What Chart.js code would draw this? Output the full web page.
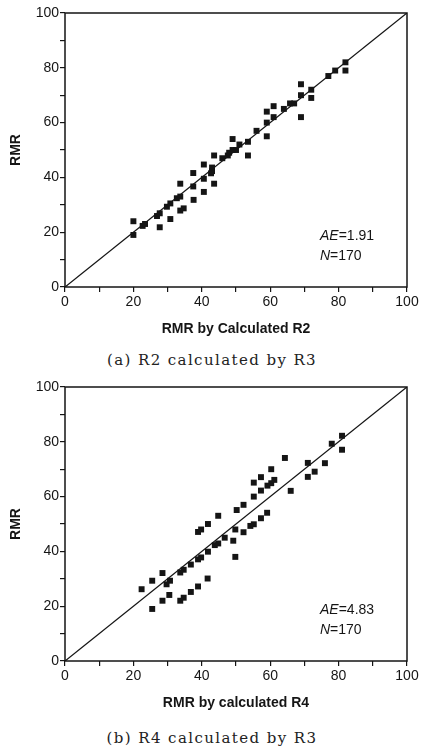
<!DOCTYPE html>
<html>
<head>
<meta charset="utf-8">
<script src="https://cdn.jsdelivr.net/npm/chart.js@4"></script>
<style>
  body { margin:0; background:#fff; width:424px; height:748px; position:relative; overflow:hidden; }
  .box { position:absolute; left:0; width:424px; height:345px; }
  .cap { position:absolute; left:0; width:424px; text-align:center; font-family:"DejaVu Serif"; font-size:15px; letter-spacing:1.4px; color:#222; }
</style>
</head>
<body>
<div class="box" style="top:0"><canvas id="c1"></canvas></div>
<div class="cap" style="top:351px">(a) R2 calculated by R3</div>
<div class="box" style="top:374px"><canvas id="c2"></canvas></div>
<div class="cap" style="top:729px">(b) R4 calculated by R3</div>
<script>
// (a) RMR vs RMR by calculated R2
const r2X = [20,20,22.7,23.4,26.9,27.7,27.7,29.8,30.8,30.8,32.7,33.7,33.7,33.7,34.7,37.5,37.5,37.6,40.6,40.6,40.6,42.7,43,43,43.6,43.6,46,47.6,48,49,49,50,51,53.5,53.5,56,59,59,59,61,61,64,65.8,67,69,69,69,72,72,77,79,82,82];
const r2Y = [24,19,22.3,23,25.9,26.9,21.8,29.3,30.5,24.8,32.4,33,37.7,27.9,28.7,36.7,41.6,31.8,44.7,39.5,34.7,41.5,42.3,43.6,48,37.7,47,48,49,50,54,50,52,53,48,57,64,60,55,66,62,65,67,67,74,70,62,72,69,77,79,82,79];

// (b) RMR vs RMR by calculated R4
const r4X = [81,81,78,76,73,71,71,66,64.3,61.2,60.3,60.3,59.2,59.1,57.3,57.3,57.3,55.2,55.2,55.2,54.2,52.2,52.2,50.2,49.8,49.2,49.8,46.7,44.8,44.8,43.8,41.8,41.8,39.8,38.9,39.8,38.9,36.8,34.7,33.7,28.5,25.5,22.4,30.7,29.7,41.7,38.9,36.8,34.7,33.7,30.5,28.5,25.5];
const r4Y = [82.2,77.1,79.3,72.2,69.1,72.3,67.2,62.1,74.1,66.1,70,64.9,64,54.1,67.1,62.2,52.1,65.1,60,49.9,49.3,57,47,55.1,48,43.9,38,45,53,42.9,42.3,50,39.9,48,47.1,37.8,37.1,35.2,33.3,32.3,32.1,29.3,26.2,29.3,28,30.1,27.2,25.2,23.1,22,24.1,22,19];

// 1:1 line
const lineX = [0, 100];
const lineY = [0, 100];

const INK = '#151515';
const FONT = 'Liberation Sans';

function pts(xs, ys) { return xs.map((x, i) => ({ x, y: ys[i] })); }

const framePlugin = {
  id: 'frame',
  afterDraw(chart, args, opts) {
    const { ctx, chartArea: a } = chart;
    ctx.save();
    ctx.strokeStyle = INK; ctx.lineWidth = 1.5;
    ctx.strokeRect(a.left, a.top, a.right - a.left, a.bottom - a.top);
    // AE / N note
    const x0 = a.left + 255, y0 = a.bottom - 51;
    ctx.fillStyle = INK; ctx.textBaseline = 'middle';
    [[opts.ae[0], opts.ae[1]], [opts.n[0], opts.n[1]]].forEach(([it, rest], i) => {
      const y = y0 + i * 20;
      ctx.font = 'italic 14px "' + FONT + '"';
      ctx.fillText(it, x0, y);
      const w = ctx.measureText(it).width;
      ctx.font = '14px "' + FONT + '"';
      ctx.fillText(rest, x0 + w, y);
    });
    ctx.restore();
  }
};

function makeChart(id, xs, ys, xTitle, ae) {
  new Chart(document.getElementById(id), {
    data: {
      datasets: [
        { type: 'scatter', data: pts(xs, ys), pointStyle: 'rect', pointRadius: 4.2, backgroundColor: INK, borderWidth: 0 },
        { type: 'line', data: pts(lineX, lineY), borderColor: INK, borderWidth: 1.3, pointRadius: 0, fill: false }
      ]
    },
    options: {
      responsive: true,
      maintainAspectRatio: false,
      animation: false,
      layout: { padding: { top: 13, right: 17, left: 0, bottom: 0 } },
      plugins: { legend: { display: false }, tooltip: { enabled: false }, frame: { ae: ['AE', '=' + ae], n: ['N', '=170'] } },
      scales: {
        x: {
          type: 'linear', min: 0, max: 100,
          ticks: { stepSize: 10, autoSkip: false, maxRotation: 0, callback: v => v % 20 === 0 ? v : '', color: INK, font: { family: FONT, size: 14 }, padding: 2 },
          grid: { drawOnChartArea: false, tickLength: 5, color: INK, lineWidth: 1.2 },
          border: { display: false },
          title: { display: true, text: xTitle, color: INK, font: { family: FONT, size: 14, weight: 'bold' }, padding: { top: 4, bottom: 7 } },
          afterFit(s) { s.height = 58; }
        },
        y: {
          type: 'linear', min: 0, max: 100,
          ticks: { stepSize: 10, autoSkip: false, callback: v => v % 20 === 0 ? v : '', color: INK, font: { family: FONT, size: 14 }, padding: 1 },
          grid: { drawOnChartArea: false, tickLength: 5, color: INK, lineWidth: 1.2 },
          border: { display: false },
          title: { display: true, text: 'RMR', color: INK, font: { family: FONT, size: 14, weight: 'bold' }, padding: { top: 8, bottom: 0 } },
          afterFit(s) { s.width = 65; }
        }
      }
    },
    plugins: [framePlugin]
  });
}

makeChart('c1', r2X, r2Y, 'RMR by Calculated R2', '1.91');
makeChart('c2', r4X, r4Y, 'RMR by calculated R4', '4.83');
</script>
</body>
</html>
